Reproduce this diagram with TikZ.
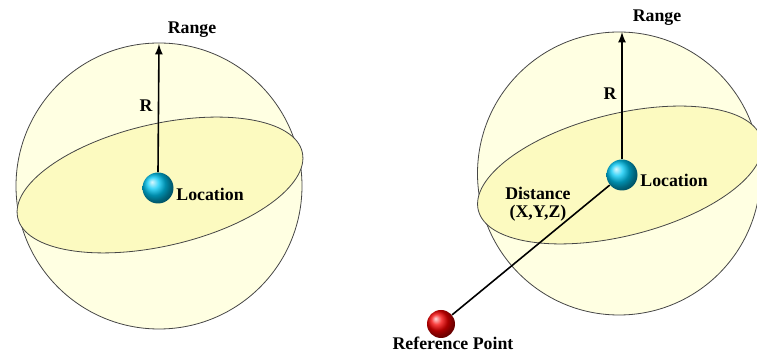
\documentclass[tikz,border=0pt]{standalone}
\usepackage{fontspec}
\setmainfont{Liberation Serif}
\usetikzlibrary{shadings}

\definecolor{spherefill}{RGB}{255,255,226}
\definecolor{diskfill}{RGB}{252,250,192}
\definecolor{rimgray}{RGB}{70,70,70}
\definecolor{locblue}{RGB}{0,200,245}
\definecolor{refred}{RGB}{245,0,0}

\tikzset{
    lbl/.style = {font=\fontsize{8.9}{10}\selectfont\bfseries, inner sep=0pt},
    rim/.style = {draw=rimgray, line width=0.4pt},
    locball/.style = {circle, inner sep=0pt, minimum size=15.5pt, ball color=locblue},
    refball/.style = {circle, inner sep=0pt, minimum size=14pt, ball color=refred}
}

\begin{document}
\begin{tikzpicture}[x=0.5pt, y=0.5pt]
        \useasboundingbox (0,0) rectangle (757,353);

        % left: location and range
        \filldraw [rim, fill=spherefill] (159,167) circle (143);
        \filldraw [rim, fill=diskfill, rotate around={13:(160,168)}] (160,168) ellipse (146 and 61);

        \node (loc1) at (158,165) [locball] {};
        \coordinate (top1) at (159,309);
        \draw [-latex, thick] (loc1.north) -- (top1);

        \node at (192,323) [lbl] {Range};
        \node at (146,247) [lbl] {R};
        \node at (176,159) [lbl, anchor = west] {Location};

        % right: location seen from a reference point
        \filldraw [rim, fill=spherefill] (619,179.5) circle (141.5);
        \filldraw [rim, fill=diskfill, rotate around={14:(620,178)}] (620,178) ellipse (146 and 61);

        \node (loc2) at (622,178) [locball] {};
        \coordinate (top2) at (622,321);
        \draw [-latex, thick] (loc2.north) -- (top2);

        \node (ref) at (441,29) [refball] {};
        \draw [thick] (ref) -- (loc2);

        \node at (657,335) [lbl] {Range};
        \node at (610,259) [lbl] {R};
        \node at (640,173) [lbl, anchor = west] {Location};
        \node at (538,160) [lbl] {Distance};
        \node at (538,140) [lbl] {(X,Y,Z)};
        \node at (453,10) [lbl] {Reference Point};
\end{tikzpicture}
\end{document}
